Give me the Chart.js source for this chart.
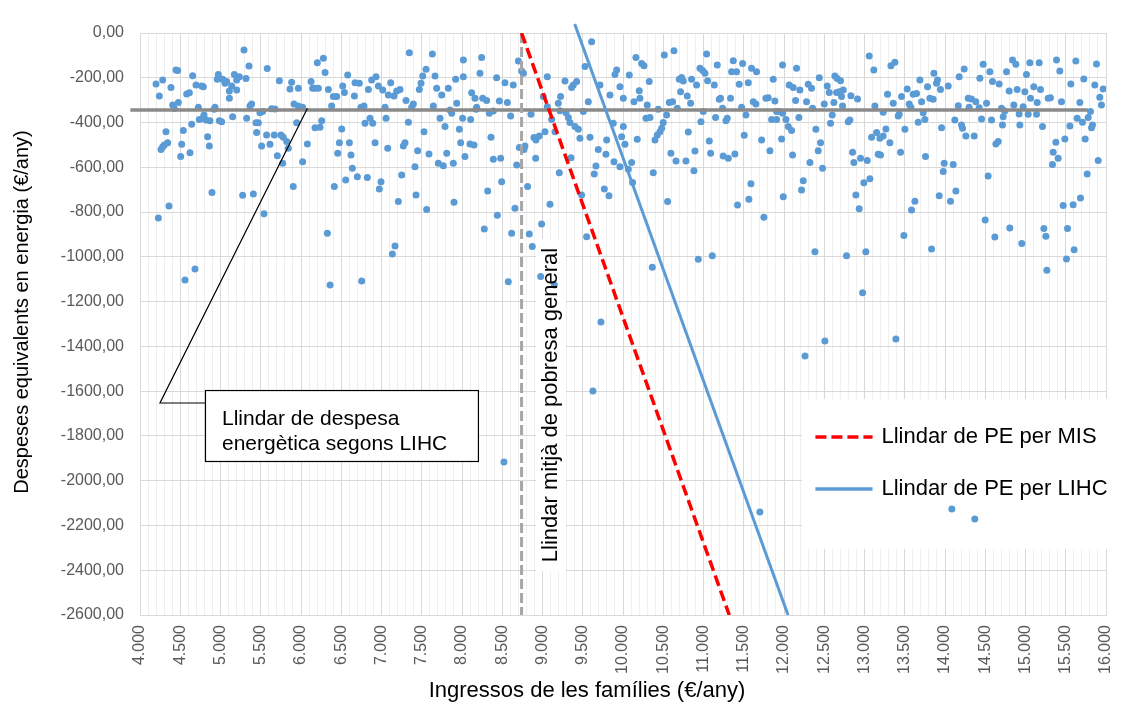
<!DOCTYPE html>
<html><head><meta charset="utf-8">
<script src="https://cdn.jsdelivr.net/npm/chart.js@4.4.1/dist/chart.umd.min.js"></script>
<style>html,body{margin:0;padding:0;background:#fff;}#wrap{width:1122px;height:711px;position:relative;}</style>
</head><body><div id="wrap"><canvas id="c" width="1122" height="711"></canvas></div>
<script>
const FONT = '"Liberation Sans", Arial, Helvetica, sans-serif';

// Households: [income €/any, equivalent energy expense €/any], grouped by income band
const band4to6k = [
[5292,-76],[5354,-147],[4447,-165],[4468,-167],[4654,-191],[5581,-159],[4199,-228],[4282,-210],[4385,-243],[4240,-281],
[4580,-272],[4613,-267],[4696,-232],[4766,-237],[4787,-240],[4973,-185],[4960,-207],[5027,-207],[5056,-225],[5076,-217],
[5110,-259],[5139,-237],[5172,-185],[5201,-210],[5234,-195],[5317,-203],[5201,-255],[5110,-292],[5731,-213],[5884,-220],
[5863,-250],[5967,-247],[4406,-322],[4426,-337],[4476,-311],[4725,-332],[4932,-332],[4919,-341],[4795,-366],[4778,-381],
[4737,-386],[4820,-389],[4869,-392],[4985,-392],[5014,-396],[5151,-374],[5325,-381],[5387,-317],[5366,-326],[5441,-401],
[5470,-401],[5490,-356],[5524,-351],[5635,-338],[5677,-339],[5913,-317],[5967,-326],[6020,-332],[5946,-401],[4323,-441],
[4538,-436],[4642,-408],[4840,-463],[4861,-505],[4344,-490],[4302,-500],[4282,-508],[4261,-520],[4518,-497],[4505,-552],
[4621,-535],[5449,-445],[5573,-456],[5668,-456],[5751,-456],[5780,-466],[5822,-485],[5842,-515],[5511,-505],[5615,-497],
[5706,-548],[5772,-582],[6020,-575],[4894,-713],[5275,-725],[5408,-719],[5904,-686],[5540,-808],[4360,-773],[4228,-826],
[4683,-1054],[4559,-1103]
];
const band6to8k = [
[7346,-88],[7632,-94],[6203,-133],[6278,-113],[6299,-177],[8017,-121],[6125,-217],[6145,-247],[6174,-247],[6216,-247],
[6340,-252],[6402,-284],[6443,-284],[6518,-237],[6539,-266],[6580,-188],[6663,-281],[6671,-222],[6725,-225],[6837,-252],
[6878,-210],[6932,-195],[6961,-237],[7015,-255],[7085,-277],[7114,-222],[7155,-281],[7189,-259],[7230,-252],[7305,-302],
[7396,-317],[7470,-252],[7491,-225],[7512,-192],[7553,-162],[7665,-192],[7685,-247],[7748,-277],[7830,-247],[7921,-207],
[8017,-195],[7934,-314],[6381,-326],[6746,-332],[6783,-326],[7044,-332],[7375,-332],[7644,-326],[7851,-344],[7872,-359],
[6257,-392],[6174,-423],[6236,-421],[6506,-429],[6795,-403],[6857,-381],[6891,-403],[7056,-381],[7334,-399],[7727,-381],
[7789,-418],[7967,-430],[8008,-381],[6079,-496],[6477,-490],[6601,-490],[6456,-537],[6621,-545],[6920,-490],[7077,-515],
[7271,-505],[7292,-490],[7449,-526],[7528,-441],[7590,-540],[7810,-537],[7983,-490],[8037,-552],[6638,-604],[6700,-642],
[6555,-657],[6824,-646],[6994,-664],[6973,-697],[7251,-634],[7416,-597],[7706,-582],[7768,-593],[7892,-582],[6414,-686],
[7209,-753],[7429,-724],[7561,-788],[7901,-756],[6327,-895],[7168,-951],[7135,-987],[6361,-1126],[6754,-1108]
];
const band8to10k = [
[9610,-39],[8700,-125],[8244,-109],[8741,-170],[8762,-180],[9528,-150],[9921,-165],[9900,-185],[8223,-180],[8430,-200],
[8534,-222],[8637,-232],[9060,-195],[9279,-214],[9383,-232],[9424,-217],[9362,-243],[9714,-232],[9838,-277],[10004,-292],
[8120,-267],[8161,-292],[8257,-292],[8306,-302],[8464,-304],[8563,-311],[9010,-284],[9196,-314],[9225,-284],[9569,-307],
[8182,-332],[8174,-341],[8339,-359],[8389,-348],[8857,-363],[9060,-329],[9114,-386],[9217,-347],[9292,-356],[9321,-377],
[9403,-418],[9445,-430],[9507,-351],[9879,-403],[10004,-418],[8107,-386],[8099,-496],[8149,-500],[8360,-466],[8604,-371],
[8894,-467],[8919,-478],[8960,-460],[9031,-441],[9155,-441],[9341,-400],[9465,-470],[9590,-466],[9797,-478],[9983,-463],
[8389,-564],[8480,-560],[8712,-512],[8770,-520],[8782,-505],[8915,-560],[9354,-557],[9693,-520],[9788,-542],[9888,-575],
[9962,-597],[8679,-590],[8493,-664],[9209,-624],[9664,-594],[9643,-630],[8319,-706],[8815,-686],[9486,-724],[9768,-697],
[9826,-727],[8439,-814],[8658,-783],[9093,-765],[8277,-876],[8617,-895],[8836,-898],[8989,-853],[8873,-954],[9548,-910],
[8575,-1111],[8977,-1088],[9147,-1126],[9726,-1291],[9626,-1599],[8521,-1916]
];
const band10to12k = [
[10633,-79],[10513,-98],[10161,-109],[10231,-136],[10260,-146],[11038,-94],[11171,-143],[11370,-124],[11486,-136],[11982,-143],
[10078,-188],[9962,-240],[10326,-217],[10699,-207],[10728,-199],[10749,-214],[10852,-207],[10956,-158],[10989,-168],[11018,-180],
[11051,-213],[11134,-232],[10914,-232],[11349,-173],[11411,-173],[11597,-158],[11659,-173],[11444,-229],[11556,-222],[11866,-207],
[10136,-307],[10210,-292],[10202,-258],[10301,-322],[10575,-311],[10616,-307],[10715,-262],[10798,-281],[10840,-314],[10674,-336],
[10438,-341],[10542,-366],[10997,-351],[11196,-296],[11212,-292],[11237,-336],[11336,-292],[11473,-332],[11527,-366],[11618,-307],
[11651,-317],[11775,-292],[11804,-289],[11887,-304],[11908,-351],[11949,-351],[11982,-359],[11846,-386],[11908,-386],[10285,-381],
[10335,-377],[10500,-400],[10480,-426],[10459,-441],[10426,-456],[10397,-478],[10024,-497],[10177,-475],[10811,-442],[10968,-396],
[11150,-377],[11279,-392],[11295,-381],[11072,-482],[11088,-537],[10894,-527],[10595,-537],[10658,-572],[10782,-572],[10881,-615],
[11245,-549],[11308,-560],[11390,-540],[11506,-457],[11722,-478],[11825,-526],[11970,-473],[10066,-609],[10107,-578],[10119,-668],
[10376,-624],[10554,-753],[11589,-674],[11564,-743],[11423,-768],[11750,-823],[11991,-731],[10364,-1047],[10935,-1011],[11109,-995],
[11700,-2140]
];
const band12to14k = [
[13059,-103],[12156,-158],[13116,-165],[13328,-146],[13377,-131],[12065,-232],[12115,-243],[12197,-255],[12301,-229],[12342,-247],
[12438,-200],[12537,-237],[12562,-266],[12632,-192],[12661,-203],[12702,-213],[12653,-266],[12686,-262],[12736,-255],[12831,-280],
[12914,-295],[12715,-284],[12620,-311],[12500,-317],[12280,-307],[12144,-302],[12355,-336],[12727,-326],[13129,-326],[13232,-354],
[13286,-274],[13357,-314],[13419,-371],[13431,-363],[13460,-284],[13530,-250],[13555,-317],[13576,-332],[13605,-274],[13646,-270],
[13688,-210],[13709,-307],[13783,-240],[13812,-292],[13853,-296],[13862,-180],[13895,-225],[13907,-210],[13944,-252],[13729,-356],
[13750,-386],[13667,-399],[12024,-386],[12053,-418],[12094,-436],[12185,-377],[12396,-430],[12578,-403],[12599,-366],[12798,-396],
[12818,-389],[13088,-466],[13150,-445],[13191,-470],[13232,-460],[13266,-429],[13315,-490],[13170,-542],[13199,-545],[13502,-430],
[13448,-533],[13758,-552],[13957,-423],[13978,-619],[13990,-582],[12106,-545],[12322,-579],[12425,-526],[12454,-490],[12479,-604],
[12852,-533],[12868,-579],[12951,-560],[13034,-570],[13067,-651],[12992,-669],[12893,-724],[12934,-785],[12239,-660],[12218,-701],
[13584,-791],[13626,-752],[13928,-727],[13489,-905],[12384,-977],[12777,-995],[13017,-977],[13833,-965],[12976,-1160],
[12261,-1443],[12508,-1376],[13390,-1367]
];
const band14to16k = [
[14839,-121],[14880,-140],[15054,-133],[15170,-133],[15385,-121],[15426,-170],[15625,-125],[15882,-138],[14474,-140],[14238,-161],
[14557,-173],[14176,-195],[14433,-202],[14764,-173],[15012,-185],[14590,-217],[14673,-228],[14040,-237],[14797,-259],[14896,-252],
[14992,-262],[15103,-240],[15186,-252],[15062,-292],[15145,-311],[15282,-292],[15310,-289],[15447,-307],[15563,-228],[15675,-310],
[15724,-206],[15861,-232],[15965,-250],[15923,-287],[15944,-322],[14288,-292],[14329,-295],[14383,-307],[14425,-334],[14300,-332],
[14164,-325],[14516,-314],[14702,-336],[14743,-348],[14855,-322],[14971,-329],[14921,-362],[15033,-363],[15137,-363],[15807,-351],
[15778,-377],[15642,-381],[15708,-399],[15832,-411],[15820,-423],[14122,-389],[14205,-411],[14218,-426],[14259,-460],[14362,-460],
[14454,-384],[14578,-389],[14723,-374],[14714,-411],[14930,-411],[15211,-418],[15551,-415],[15741,-473],[15489,-473],[15377,-488],
[15344,-533],[15406,-560],[15335,-587],[14632,-496],[14661,-485],[14102,-587],[14536,-639],[15766,-630],[15903,-570],[14135,-706],
[14068,-752],[15468,-771],[15592,-767],[15683,-737],[14499,-835],[14619,-911],[14805,-871],[14954,-940],[15228,-873],[15253,-908],
[15522,-873],[15604,-968],[15509,-1010],[15265,-1060],[14085,-2126],[14370,-2171]
];

// Threshold values
const lihcExpenseThreshold = -344;          // horizontal LIHC threshold
const lihcExpenseLineIncome = [3880, 15775]; // income extent of that line
const generalPovertyIncome = 8740;           // vertical dashed line
const misLine = [[8740, 0], [11320, -2600]];
const lihcLine = [[9400, 40], [12050, -2600]];

// Axes
const xRange = [4000, 16000];
const yRange = [-2600, 0];
const xMinorStep = 100, xLabelStep = 500, yStep = 200;

// Texts
const xTitle = 'Ingressos de les famílies (€/any)';
const yTitle = 'Despeses equivalents en energia (€/any)';
const calloutLines = ['Llindar de despesa', 'energètica segons LIHC'];
const povertyLabel = 'Llindar mitjà de pobresa general';
const legendMIS = 'Llindar de PE per MIS';
const legendLIHC = 'Llindar de PE per LIHC';

const toXY = arr => arr.map(p => ({x: p[0], y: p[1]}));
const households = [].concat(band4to6k, band6to8k, band8to10k, band10to12k, band12to14k, band14to16k);

const fmtX = v => String(v).replace(/\B(?=(\d{3})+(?!\d))/g, '.');
const fmtY = v => (v === 0 ? '0' : String(v)) + ',00';

const overlay = {
  id: 'overlay',
  beforeDatasetsDraw(chart) {
    const {ctx, scales: {x, y}} = chart;
    ctx.save();
    ctx.fillStyle = '#ffffff';
    const lx = x.getPixelForValue(12222), ly = y.getPixelForValue(-1635), lb = y.getPixelForValue(-2305);
    ctx.fillRect(lx, ly, 1122 - lx, lb - ly);
    const cx = x.getPixelForValue(9105), cy = y.getPixelForValue(-1662);
    ctx.fillRect(cx - 15, cy - 166, 30, 332);
    ctx.restore();
  },
  afterDatasetsDraw(chart) {
    const {ctx, scales: {x, y}} = chart;
    ctx.save();
    // callout
    const ax = x.getPixelForValue(6080), ay = y.getPixelForValue(lihcExpenseThreshold + 8);
    const ex = x.getPixelForValue(4248), ey = y.getPixelForValue(-1653);
    const bx = x.getPixelForValue(4807), by = y.getPixelForValue(-1595);
    const bw = x.getPixelForValue(8198) - bx, bh = y.getPixelForValue(-1912) - by;
    ctx.strokeStyle = '#000'; ctx.lineWidth = 1.2;
    ctx.beginPath(); ctx.moveTo(ax, ay); ctx.lineTo(ex, ey); ctx.lineTo(bx, ey); ctx.stroke();
    ctx.fillStyle = '#fff'; ctx.fillRect(bx, by, bw, bh);
    ctx.strokeRect(bx + 0.5, by + 0.5, bw, bh);
    ctx.fillStyle = '#000'; ctx.font = '21px ' + FONT; ctx.textAlign = 'left'; ctx.textBaseline = 'alphabetic';
    ctx.fillText(calloutLines[0], bx + 17, by + 35);
    ctx.fillText(calloutLines[1], bx + 17, by + 60);
    // vertical label
    const cx = x.getPixelForValue(9105), cy = y.getPixelForValue(-1662);
    ctx.translate(cx, cy); ctx.rotate(-Math.PI / 2);
    ctx.textAlign = 'center'; ctx.textBaseline = 'middle'; ctx.font = '22px ' + FONT;
    ctx.fillText(povertyLabel, 0, 0);
    ctx.setTransform(1, 0, 0, 1, 0, 0);
    // legend
    const l1 = y.getPixelForValue(-1805), l2 = y.getPixelForValue(-2037);
    const sx0 = x.getPixelForValue(12390), sx1 = x.getPixelForValue(13100), tx = x.getPixelForValue(13210);
    ctx.lineWidth = 3.5; ctx.strokeStyle = '#ff0000'; ctx.setLineDash([11, 5]);
    ctx.beginPath(); ctx.moveTo(sx0, l1); ctx.lineTo(sx1, l1); ctx.stroke();
    ctx.setLineDash([]); ctx.strokeStyle = '#5b9bd5'; ctx.lineWidth = 3.5;
    ctx.beginPath(); ctx.moveTo(sx0, l2); ctx.lineTo(sx1, l2); ctx.stroke();
    ctx.fillStyle = '#000'; ctx.font = '22px ' + FONT; ctx.textAlign = 'left'; ctx.textBaseline = 'middle';
    ctx.fillText(legendMIS, tx, l1);
    ctx.fillText(legendLIHC, tx, l2);
    ctx.restore();
  },
  afterDraw(chart) {
    const {ctx} = chart;
    ctx.save();
    ctx.fillStyle = '#000';
    ctx.font = '22px ' + FONT; ctx.textAlign = 'center'; ctx.textBaseline = 'middle';
    ctx.fillText(xTitle, 587, 691);
    ctx.translate(22, 312); ctx.rotate(-Math.PI / 2);
    ctx.font = '20px ' + FONT;
    ctx.fillText(yTitle, 0, 0);
    ctx.restore();
  }
};

new Chart(document.getElementById('c'), {
  type: 'scatter',
  data: {
    datasets: [
      {label: 'LIHC', data: toXY(lihcLine), showLine: true, borderColor: '#5b9bd5', borderWidth: 3, pointRadius: 0, clip: false, order: 1},
      {label: 'MIS', data: toXY(misLine), showLine: true, borderColor: '#ff0000', borderWidth: 3.5, borderDash: [11, 5], pointRadius: 0, order: 2},
      {label: 'pobresa', data: [{x: generalPovertyIncome, y: yRange[1]}, {x: generalPovertyIncome, y: yRange[0]}], showLine: true, borderColor: '#a6a6a6', borderWidth: 3, borderDash: [10, 4], pointRadius: 0, order: 3},
      {label: 'despesa', data: lihcExpenseLineIncome.map(v => ({x: v, y: lihcExpenseThreshold})), showLine: true, borderColor: '#8a8a8a', borderWidth: 3.5, pointRadius: 0, clip: false, order: 4},
      {label: 'llars', data: toXY(households), backgroundColor: '#5b9bd5', borderWidth: 0, pointRadius: 3.5, pointHoverRadius: 3.5, order: 10}
    ]
  },
  options: {
    responsive: false, animation: false, devicePixelRatio: 1,
    layout: {padding: {top: 33, right: 16, bottom: 0, left: 0}},
    plugins: {legend: {display: false}, tooltip: {enabled: false}},
    scales: {
      x: {
        type: 'linear', min: xRange[0], max: xRange[1],
        afterFit: s => { s.height = 96; s.paddingRight = 0; s.paddingLeft = 0; },
        grid: {drawTicks: false, color: c => (c.tick && c.tick.value % xLabelStep === 0) ? '#d9d9d9' : '#efefef', lineWidth: 1},
        border: {color: '#d9d9d9'},
        ticks: {stepSize: xMinorStep, autoSkip: false, minRotation: 90, maxRotation: 90, padding: 10, color: '#595959',
          font: {family: FONT, size: 16}, callback: v => v % xLabelStep === 0 ? fmtX(v) : ''}
      },
      y: {
        type: 'linear', min: yRange[0], max: yRange[1],
        afterFit: s => { s.width = 140; },
        grid: {drawTicks: false, color: '#d9d9d9'},
        border: {color: '#d9d9d9'},
        ticks: {stepSize: yStep, padding: 16, color: '#595959', font: {family: FONT, size: 16}, callback: v => fmtY(v)}
      }
    }
  },
  plugins: [overlay]
});
</script></body></html>
